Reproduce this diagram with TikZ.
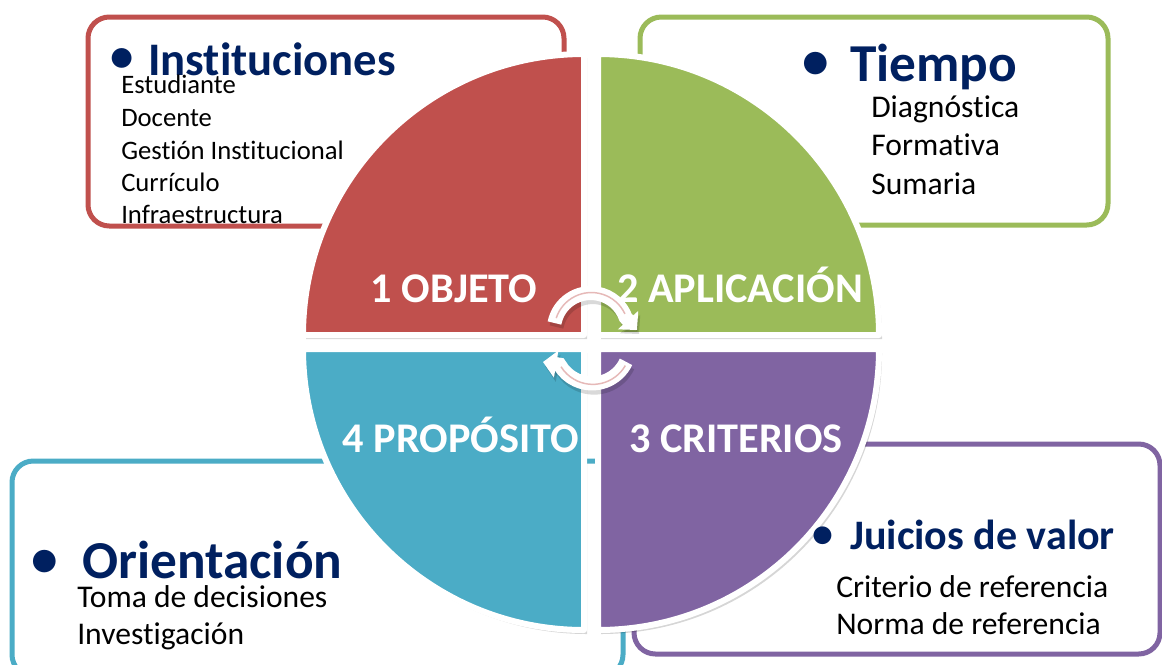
\documentclass[tikz,border=0pt]{standalone}
\usepackage{fontspec}
\setmainfont{Carlito}[Ligatures=NoCommon]
\usepackage{tikz}
\usetikzlibrary{arrows.meta}
\usepackage{xcolor}
\definecolor{objred}{HTML}{C0504D}
\definecolor{aplgreen}{HTML}{9BBB59}
\definecolor{crivio}{HTML}{8064A2}
\definecolor{proteal}{HTML}{4BACC6}
\definecolor{headnavy}{HTML}{002060}
\definecolor{arrowpink}{HTML}{E6B9B8}

\begin{document}
\begin{tikzpicture}[x=0.75pt,y=0.75pt,yscale=-1,xscale=1,
  boxline/.style={line width=3.75pt, rounded corners=16pt, fill=white},
  quad/.style={draw=white, line width=4.5pt, line join=round},
  quadshadow/.style={fill=black, opacity=0.16},
  labtxt/.style={text=white, anchor=base, inner sep=0pt, font=\fontsize{31.7}{38}\selectfont\bfseries},
  headtxt/.style={text=headnavy, anchor=base west, inner sep=0pt},
  bultxt/.style={text=headnavy, anchor=center, inner sep=0pt},
  itemtxt/.style={text=black, anchor=base west, inner sep=0pt},
  arrowshadow/.style={black, opacity=0.15, line width=10.5pt, -{Triangle[width=20pt,length=10pt]}},
  arrowbody/.style={white, line width=10.5pt, -{Triangle[width=20pt,length=10pt]}},
  arrowline/.style={arrowpink, line width=1.1pt}]
\useasboundingbox (0,0) rectangle (1162,664);

%Rounded Rect: Instituciones
\draw[boxline, draw=objred] (88,17) rectangle (564,226);
%Rounded Rect: Tiempo
\draw[boxline, draw=aplgreen] (640,17) rectangle (1108,225);
%Rounded Rect: Orientacion
\draw[boxline, draw=proteal] (12,461) rectangle (623,676);
%Rounded Rect: Juicios de valor
\draw[boxline, draw=crivio] (634,444) rectangle (1160,654);

%Shadows of the four quarters
\fill[quadshadow] (587,339) -- (306,339) arc[start angle=180, end angle=270, radius=281] -- cycle;
\fill[quadshadow] (601,339) -- (601,58) arc[start angle=270, end angle=360, radius=281] -- cycle;
\fill[quadshadow] (601,353) -- (882,353) arc[start angle=0, end angle=90, radius=281] -- cycle;
\fill[quadshadow] (587,353) -- (587,634) arc[start angle=90, end angle=180, radius=281] -- cycle;

%Quarter: 1 objeto
\draw[quad, fill=objred] (584,335) -- (303,335) arc[start angle=180, end angle=270, radius=281] -- cycle;
%Quarter: 2 aplicacion
\draw[quad, fill=aplgreen] (598,335) -- (598,54) arc[start angle=270, end angle=360, radius=281] -- cycle;
%Quarter: 3 criterios
\draw[quad, fill=crivio] (598,349) -- (879,349) arc[start angle=0, end angle=90, radius=281] -- cycle;
%Quarter: 4 proposito
\draw[quad, fill=proteal] (584,349) -- (584,630) arc[start angle=90, end angle=180, radius=281] -- cycle;

% Text Node
\node[labtxt] (labobj) at (454,302) {1 OBJETO};
% Text Node
\node[labtxt] (labapl) at (740,302) {2 APLICACIÓN};
% Text Node
\node[labtxt] (labcri) at (736,452) {3 CRITERIOS};
% Text Node
\node[labtxt] (labpro) at (461,452) {4 PROPÓSITO};

%Curve Arrows
\draw[arrowshadow] (556.5,327) arc[start angle=191, end angle=340, radius=37] -- (639,334);
\draw[arrowshadow] (628,366) arc[start angle=25, end angle=150, radius=37.5] -- (545,366);
\draw[arrowbody] (554.5,323) arc[start angle=191, end angle=340, radius=37] -- (637,330);
\draw[arrowbody] (626,361.8) arc[start angle=25, end angle=150, radius=37.5] -- (543,362);
\draw[arrowline] (556.2,318.1) arc[start angle=198, end angle=335, radius=37];
\draw[arrowline] (625.3,365.6) arc[start angle=30, end angle=148, radius=37.5];

% Text Node
\node[bultxt, font=\fontsize{35}{42}\selectfont\bfseries] (bulinst) at (122,60) {•};
\node[headtxt, font=\fontsize{35}{42}\selectfont\bfseries] (headinst) at (148,75) {Instituciones};
\node[itemtxt, font=\fontsize{20}{24}\selectfont] (est) at (121,93) {Estudiante};
\node[itemtxt, font=\fontsize{20}{24}\selectfont] (doc) at (121,126) {Docente};
\node[itemtxt, font=\fontsize{20}{24}\selectfont] (gest) at (121,159) {Gestión Institucional};
\node[itemtxt, font=\fontsize{20}{24}\selectfont] (curr) at (121,191) {Currículo};
\node[itemtxt, font=\fontsize{20}{24}\selectfont] (infra) at (121,223) {Infraestructura};

% Text Node
\node[bultxt, font=\fontsize{40}{48}\selectfont\bfseries] (bultiem) at (816,65) {•};
\node[headtxt, font=\fontsize{40}{48}\selectfont\bfseries] (headtiem) at (850,81) {Tiempo};
\node[itemtxt, font=\fontsize{23.7}{28}\selectfont] (diag) at (871,117) {Diagnóstica};
\node[itemtxt, font=\fontsize{23.7}{28}\selectfont] (form) at (871,155) {Formativa};
\node[itemtxt, font=\fontsize{23.7}{28}\selectfont] (suma) at (871,194) {Sumaria};

% Text Node
\node[bultxt, font=\fontsize{40}{48}\selectfont\bfseries] (bulori) at (45,563) {•};
\node[headtxt, font=\fontsize{40}{48}\selectfont\bfseries] (headori) at (82,578) {Orientación};
\node[itemtxt, font=\fontsize{23.7}{28}\selectfont] (toma) at (77,607) {Toma de decisiones};
\node[itemtxt, font=\fontsize{23.7}{28}\selectfont] (inv) at (77,644) {Investigación};

% Text Node
\node[bultxt, font=\fontsize{31.5}{38}\selectfont\bfseries] (buljui) at (823,537) {•};
\node[headtxt, font=\fontsize{31.5}{38}\selectfont\bfseries] (headjui) at (850,549) {Juicios de valor};
\node[itemtxt, font=\fontsize{23.7}{28}\selectfont] (crit) at (836,597) {Criterio de referencia};
\node[itemtxt, font=\fontsize{23.7}{28}\selectfont] (norma) at (836,634) {Norma de referencia};

\end{tikzpicture}
\end{document}
